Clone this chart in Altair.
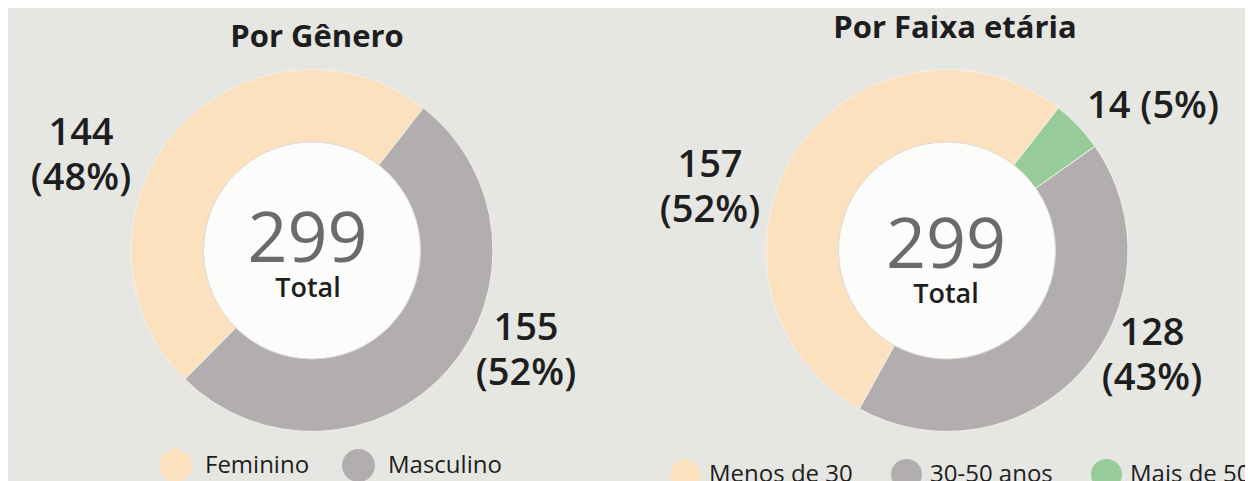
import math
import altair as alt
import pandas as pd

FONT = "Open Sans"
TEXT = "#1e1e1e"

titles = ["Por Gênero", "Por Faixa etária"]
genero_cats = ["Feminino", "Masculino"]
genero_vals = [144, 155]
genero_pct = [48, 52]
genero_colors = ["#fce1bf", "#b2aeaf"]
idade_cats = ["Menos de 30", "30-50 anos", "Mais de 50"]
idade_vals = [157, 128, 14]
idade_pct = [52, 43, 5]
idade_colors = ["#fce1bf", "#b2aeaf", "#98cb9a"]
center_word = "Total"

START = math.radians(38)


def make_df(cats, vals, pct):
    return pd.DataFrame({
        "cat": cats,
        "value": vals,
        "ord": [-i for i in range(len(cats))],
        "label": [f"{v}\n({p}%)" for v, p in zip(vals, pct)],
        "label1": [f"{v} ({p}%)" for v, p in zip(vals, pct)],
    })


def donut(cats, vals, pct, colors, title, cx, cy, title_pos, legend_pos, sym, lab_off, col_pad, labels, num_pos, tot_pos):
    df = make_df(cats, vals, pct)
    tot = pd.DataFrame({"total": [str(sum(vals))], "word": [center_word], "title": [title]})
    base = alt.Chart(df)
    arc = base.mark_arc(outerRadius=181, stroke="#f4f1ec", strokeWidth=1).encode(
        theta=alt.Theta("value:Q", stack=True,
                        scale=alt.Scale(range=[START, START + 2 * math.pi])),
        color=alt.Color("cat:N", scale=alt.Scale(domain=cats, range=colors),
                        legend=alt.Legend(
                            orient="none", legendX=legend_pos[0], legendY=legend_pos[1],
                            direction="horizontal", title=None, symbolType="circle",
                            symbolSize=sym, symbolStrokeWidth=0, symbolOpacity=1,
                            labelFontSize=24, labelFont=FONT, labelColor=TEXT,
                            labelOffset=lab_off, columnPadding=col_pad, padding=0)),
        order=alt.Order("ord:Q"),
        x=alt.value(cx), y=alt.value(cy),
    )
    hole = alt.Chart(tot).mark_arc(radius=108.5, theta=0, theta2=2 * math.pi,
                                   fill="#fcfcfa", stroke="#ddd9d3", strokeWidth=1).encode(
        x=alt.value(cx), y=alt.value(cy))
    num = alt.Chart(tot).mark_text(font=FONT, fontSize=70, color="#6b6b6b",
                                   align="center", baseline="alphabetic").encode(
        text="total:N", x=alt.value(num_pos[0]), y=alt.value(num_pos[1]))
    word = alt.Chart(tot).mark_text(font=FONT, fontSize=27, fontWeight=600, color=TEXT,
                                    align="center", baseline="alphabetic").encode(
        text="word:N", x=alt.value(tot_pos[0]), y=alt.value(tot_pos[1]))
    ttl = alt.Chart(tot).mark_text(font=FONT, fontSize=31, fontWeight="bold", color=TEXT,
                                   align="center", baseline="alphabetic").encode(
        text="title:N", x=alt.value(title_pos[0]), y=alt.value(title_pos[1]))
    layers = [arc, hole, num, word, ttl]
    for cat, field, lx, ly in labels:
        layers.append(
            base.transform_filter(alt.datum.cat == cat).mark_text(
                font=FONT, fontSize=38, fontWeight=600, color=TEXT, align="center",
                baseline="alphabetic", lineBreak="\n", lineHeight=45).encode(
                text=f"{field}:N", x=alt.value(lx), y=alt.value(ly)))
    return layers


left = donut(genero_cats, genero_vals, genero_pct, genero_colors, titles[0], 304, 242.5,
             (309, 39), (151, 441), 1089, 13, 32,
             [("Feminino", "label", 73, 137), ("Masculino", "label", 518, 332)],
             (299.5, 254), (300, 289))
right = donut(idade_cats, idade_vals, idade_pct, idade_colors, titles[1], 939, 242.5,
              (947, 30), (662, 451), 961, 8, 38,
              [("Menos de 30", "label", 702, 169), ("30-50 anos", "label", 1144, 337),
               ("Mais de 50", "label1", 1145, 110)],
              (938, 260), (938, 295))

chart = alt.layer(*left, *right).resolve_scale(
    color="independent", theta="independent"
).properties(
    width=1237, height=490, padding=0, background="#e6e6e2",
    autosize=alt.AutoSizeParams(type="none"),
).configure_view(stroke=None)

chart.save("out.html", embed_options={"renderer": "svg", "actions": False})
